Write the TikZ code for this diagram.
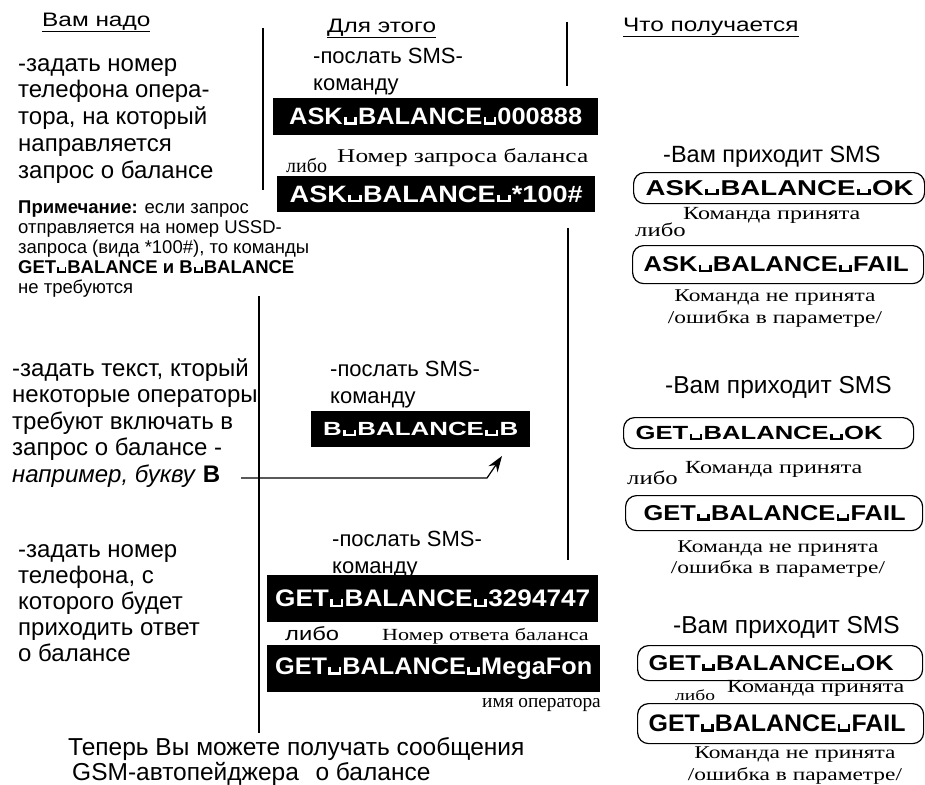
\documentclass[tikz,border=0pt]{standalone}
\usepackage{fontspec}
\usepackage{graphicx}
\setmainfont{Liberation Sans}
\newfontfamily\serifrm{Liberation Serif}[FakeStretch=1.3]
\newfontfamily\serifplain{Liberation Serif}
\newfontfamily\sanswide{Liberation Sans}[FakeStretch=1.25]
\usetikzlibrary{arrows.meta}
\newcommand\opbox{\kern0.05em\rule{0.1em}{0.32em}\rule{0.3em}{0.1em}\rule{0.1em}{0.32em}\kern0.05em}
\newcommand\fitbox[3]{\resizebox{#1pt}{#2pt}{\bfseries #3}}
\newlength\ulwidth
\newcommand\uln[1]{\settowidth\ulwidth{#1}\rlap{\rule[-5pt]{\ulwidth}{1.4pt}}#1}
\begin{document}
\begin{tikzpicture}[x=1pt,y=-1pt,
  txt/.style={anchor=base west, inner sep=0pt, align=left, font=\fontsize{24}{26.75}\selectfont},
  mid/.style={anchor=base west, inner sep=0pt, align=left, font=\fontsize{22}{26.5}\selectfont},
  sms txt/.style={anchor=base west, inner sep=0pt, font=\fontsize{24.5}{26}\selectfont},
  hdr/.style={anchor=base west, inner sep=0pt, font=\sanswide\fontsize{19.5}{24}\selectfont},
  note/.style={anchor=base west, inner sep=0pt, align=left, font=\fontsize{18.5}{20}\selectfont},
  ser/.style={anchor=base west, inner sep=0pt, align=left, font=\serifrm\fontsize{18.5}{22}\selectfont},
  serc/.style={anchor=base, inner sep=0pt, align=center, font=\serifrm\fontsize{18}{22}\selectfont},
  cmd/.style={fill=black, text=white, inner sep=0pt, anchor=north west},
  sms/.style={draw, rounded corners=11pt, line width=1.2pt, inner xsep=0pt, inner ysep=0pt, anchor=north west, align=left},
  vline/.style={line width=2.6pt},
]
\useasboundingbox (0,0) rectangle (925,784);
% headers
\node[hdr] (h1) at (42,27) {\uln{Вам надо}};
\node[hdr] (h2) at (327,33) {\uln{Для этого}};
\node[hdr] (h3) at (623,32) {\uln{Что получается}};
% dividers
\draw[vline] (263,28) -- (263,190);
\draw[vline] (259,296) -- (259,733);
\draw[vline] (567,22) -- (567,86);
\draw[vline] (568,228) -- (568,560);
% left column
\node[txt] (t1) at (18,178) {-задать номер\\телефона опера-\\тора, на который\\направляется\\запрос о балансе};
\node[note] (n1) at (18,293) {\textbf{Примечание:} если запрос\\отправляется на номер USSD-\\запроса (вида *100\#), то команды\\\textbf{GET\opbox BALANCE и B\opbox BALANCE}\\не требуются};
\node[txt, font=\fontsize{24}{26.5}\selectfont] (t2) at (12,482) {-задать текст, кторый\\некоторые операторы\\требуют включать в\\запрос о балансе -\\\textit{например, букву} \textbf{B}};
\node[txt, font=\fontsize{24}{26}\selectfont] (t3) at (18,661) {-задать номер\\телефона, с\\которого будет\\приходить ответ\\о балансе};
% middle column
\node[mid, font=\fontsize{22}{27}\selectfont] (p1) at (313,90) {-послать SMS-\\команду};
\node[cmd, minimum width=325pt, minimum height=37pt] (c1) at (273,98) {\fitbox{293}{16.5}{ASK\opbox BALANCE\opbox 000888}};
\node[ser, font=\serifrm\fontsize{19.5}{22}\selectfont] (s1) at (337,162) {Номер запроса баланса};
\node[ser, font=\serifplain\fontsize{20}{22}\selectfont] (l1) at (286,172) {либо};
\node[cmd, minimum width=318pt, minimum height=36pt] (c2) at (277,176) {\fitbox{293}{16.5}{ASK\opbox BALANCE\opbox *100\#}};
\node[mid] (p2) at (330,403) {-послать SMS-\\команду};
\node[cmd, minimum width=219pt, minimum height=36pt] (c3) at (311,411) {\fitbox{195}{13.3}{B\opbox BALANCE\opbox B}};
\node[mid] (p3) at (332,573) {-послать SMS-\\команду};
\node[cmd, minimum width=331pt, minimum height=47pt] (c4) at (267,575) {\fitbox{315}{16.7}{GET\opbox BALANCE\opbox 3294747}};
\node[anchor=base west, inner sep=0pt, font=\sanswide\fontsize{19}{20}\selectfont] (l2) at (285,640) {либо};
\node[ser, font=\serifrm\fontsize{17}{22}\selectfont] (s2) at (382,640) {Номер ответа баланса};
\node[cmd, minimum width=333pt, minimum height=47pt] (c5) at (267,645) {\fitbox{317}{16.7}{GET\opbox BALANCE\opbox MegaFon}};
\node[ser, font=\serifplain\fontsize{19.3}{22}\selectfont] (s3) at (482,707) {имя оператора};
% arrow
\coordinate (a0) at (241,478);
\coordinate (a1) at (487,478);
\coordinate (a2) at (502,456);
\draw[line width=1.2pt, -{Stealth[length=16pt,width=11pt]}] (a0) -- (a1) -- (a2);
% right column
\node[sms txt, font=\fontsize{23.5}{26}\selectfont] (r1) at (663,162) {-Вам приходит SMS};
\node[sms, text width=291pt, minimum height=31pt] (m1) at (633,172) {\hspace*{12pt}\fitbox{268}{15}{ASK\opbox BALANCE\opbox OK}};
\node[ser] (k1) at (683,219) {Команда принята};
\node[ser, font=\serifrm\fontsize{19}{20}\selectfont] (l3) at (635,236) {либо};
\node[sms, text width=291pt, minimum height=38pt] (m2) at (632,245) {\hspace*{11pt}\fitbox{265}{15}{ASK\opbox BALANCE\opbox FAIL}};
\node[serc] (e1) at (775,323) {Команда не принята\\/ошибка в параметре/};
\node[sms txt] (r2) at (665,393) {-Вам приходит SMS};
\node[sms, text width=290pt, minimum height=31pt] (m3) at (623,417) {\hspace*{12pt}\fitbox{247}{13.3}{GET\opbox BALANCE\opbox OK}};
\node[ser] (k2) at (685,473) {Команда принята};
\node[ser, font=\serifrm\fontsize{19}{20}\selectfont] (l4) at (627,484) {либо};
\node[sms, text width=297pt, minimum height=35pt] (m4) at (625,495) {\hspace*{18pt}\fitbox{262}{15}{GET\opbox BALANCE\opbox FAIL}};
\node[serc, font=\serifrm\fontsize{18}{21}\selectfont] (e2) at (778,573) {Команда не принята\\/ошибка в параметре/};
\node[sms txt] (r3) at (673,633) {-Вам приходит SMS};
\node[sms, text width=285pt, minimum height=35pt] (m5) at (637,645) {\hspace*{11pt}\fitbox{245}{15}{GET\opbox BALANCE\opbox OK}};
\node[ser] (k3) at (727,692) {Команда принята};
\node[ser, font=\serifrm\fontsize{15}{20}\selectfont] (l5) at (675,700) {либо};
\node[sms, text width=286pt, minimum height=40pt] (m6) at (637,703) {\hspace*{11pt}\fitbox{257}{16.7}{GET\opbox BALANCE\opbox FAIL}};
\node[serc] (e3) at (795,780) {Команда не принята\\/ошибка в параметре/};
% bottom
\node[anchor=base west, inner sep=0pt, align=left, font=\fontsize{24.5}{23}\selectfont] (b1) at (68,780) {Теперь Вы можете получать сообщения\\\hspace*{4pt}GSM-автопейджера\hspace{0.4em} о балансе};
\end{tikzpicture}
\end{document}
